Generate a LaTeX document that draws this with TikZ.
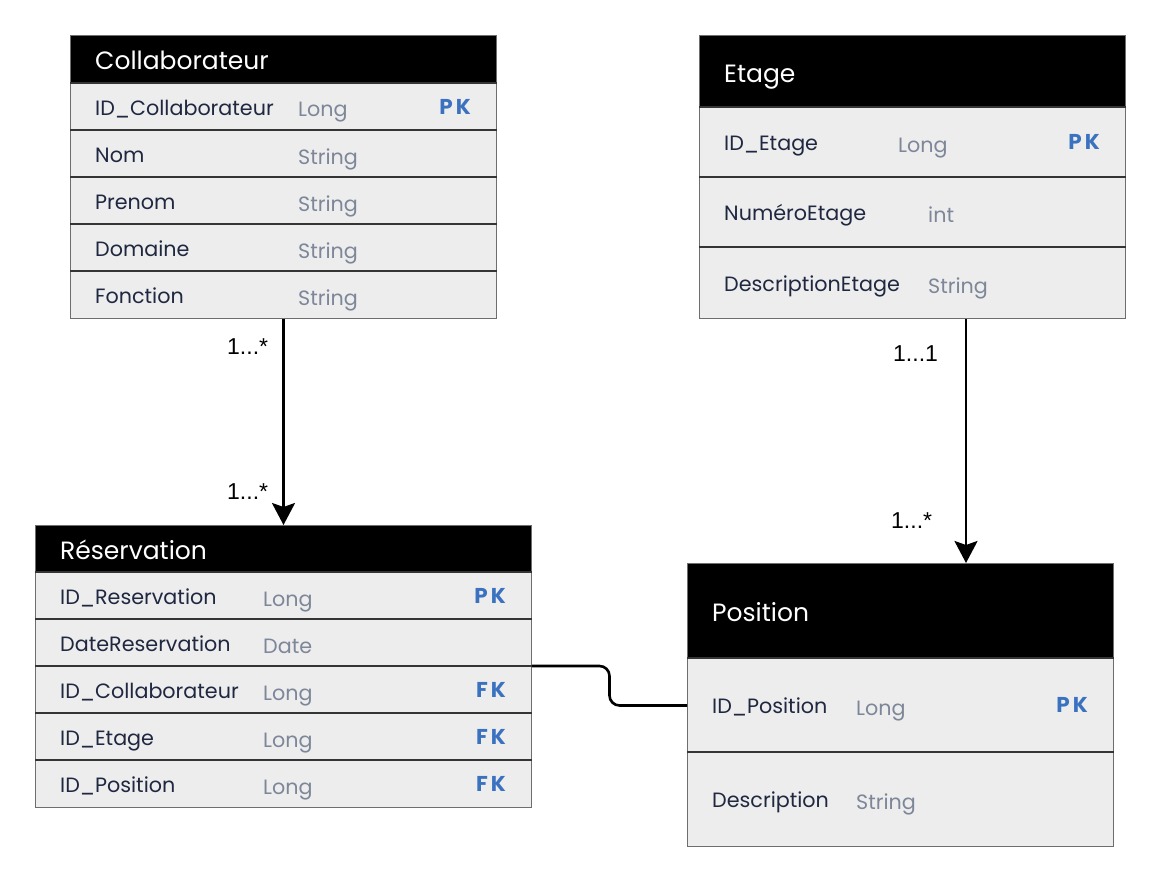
\documentclass[tikz,border=0pt]{standalone}
\usepackage{fontspec}
\setmainfont{Poppins}
\newfontfamily\labfont{Liberation Sans}
\usetikzlibrary{calc,arrows.meta}
\definecolor{rowfill}{HTML}{EDEDED}
\definecolor{fieldcol}{HTML}{1F2840}
\definecolor{typecol}{HTML}{7D8799}
\definecolor{keycol}{HTML}{3B72C0}
\definecolor{bordercol}{HTML}{6E6E6E}
\definecolor{sepcol}{HTML}{353535}
\tikzset{
  headbox/.style={rectangle, fill=black, draw=bordercol, line width=1pt, inner sep=0pt},
  rowbox/.style={rectangle, fill=rowfill, draw=bordercol, line width=1pt, inner sep=0pt},
  sepline/.style={draw=sepcol, line width=1.6pt},
  headtxt/.style={text=white, font=\fontsize{25}{30}\selectfont, inner sep=0pt, anchor=base west},
  fieldtxt/.style={text=fieldcol, font=\fontsize{20.7}{24}\selectfont, inner sep=0pt, anchor=base west},
  typetxt/.style={text=typecol, font=\fontsize{20.7}{24}\selectfont, inner sep=0pt, anchor=base west},
  keytxt/.style={text=keycol, font=\bfseries\fontsize{21.5}{24}\selectfont, inner sep=0pt, anchor=base east},
  conn/.style={line width=2.6pt, draw=black},
  tip/.style={-{Stealth[length=22pt,width=23pt,inset=4pt]}},
  multtxt/.style={font=\labfont\fontsize{23}{26}\selectfont, inner sep=0pt, anchor=base west}
}
% header: id, x, top, width, height, title
\newcommand\ehead[6]{%
  \node[headbox, minimum width=#4pt, minimum height=#5pt, anchor=north west] (#1) at (#2,#3) {};
  \node[headtxt] (#1t) at ($(#1.west)+(25,10.5)$) {#6};
}
% row: id, x, top, width, height, field, type, type offset, key
\newcommand\erow[9]{%
  \node[rowbox, minimum width=#4pt, minimum height=#5pt, anchor=north west] (#1) at (#2,#3) {};
  \draw[sepline] (#1.north west) -- (#1.north east);
  \node[fieldtxt] (#1n) at ($(#1.west)+(25,8)$) {#6};
  \node[typetxt] (#1t) at ($(#1.west)+(#8,10)$) {#7};
  \if\relax\detokenize{#9}\relax\else
  \node[keytxt] (#1k) at ($(#1.east)+(-26,7)$) {#9};\fi
}
\begin{document}
\begin{tikzpicture}[x=1pt,y=-1pt]
\path[use as bounding box] (0,0) rectangle (1160,883);

% Collaborateur
\ehead{colH}{70}{35}{426}{48}{Collaborateur}
\erow{col1}{70}{83}{426}{47}{ID\_Collaborateur}{Long}{228}{P\kern3pt K}
\erow{col2}{70}{130}{426}{47}{Nom}{String}{228}{}
\erow{col3}{70}{177}{426}{47}{Prenom}{String}{228}{}
\erow{col4}{70}{224}{426}{47}{Domaine}{String}{228}{}
\erow{col5}{70}{271}{426}{47}{Fonction}{String}{228}{}

% Etage
\ehead{etgH}{699}{35}{426}{72}{Etage}
\erow{etg1}{699}{107}{426}{70}{ID\_Etage}{Long}{199}{P\kern3pt K}
\erow{etg2}{699}{177}{426}{70}{NuméroEtage}{int}{229}{}
\erow{etg3}{699}{247}{426}{71}{DescriptionEtage}{String}{229}{}

% Reservation
\ehead{resH}{35}{525}{496}{47}{Réservation}
\erow{res1}{35}{572}{496}{47}{ID\_Reservation}{Long}{228}{P\kern3pt K}
\erow{res2}{35}{619}{496}{47}{DateReservation}{Date}{228}{}
\erow{res3}{35}{666}{496}{47}{ID\_Collaborateur}{Long}{228}{F\kern3pt K}
\erow{res4}{35}{713}{496}{47}{ID\_Etage}{Long}{228}{F\kern3pt K}
\erow{res5}{35}{760}{496}{47}{ID\_Position}{Long}{228}{F\kern3pt K}

% Position
\ehead{posH}{687}{563}{426}{95}{Position}
\erow{pos1}{687}{658}{426}{94}{ID\_Position}{Long}{169}{P\kern3pt K}
\erow{pos2}{687}{752}{426}{94}{Description}{String}{169}{}

% connectors
\draw[conn, tip] (resH.north |- col5.south) -- (resH.north);
\coordinate (etgout) at ($(etg3.south west)+(267,0)$);
\draw[conn, tip] (etgout) -- (etgout |- posH.north);
\draw[conn, rounded corners=10pt] (res3.north east) -| ($(res3.north east)!.5!(pos1.west)$) |- (pos1.west);

% multiplicities
\node[multtxt] (m1) at (227,354) {1...*};
\node[multtxt] (m2) at (227,499) {1...*};
\node[multtxt] (m3) at (893,361) {1...1};
\node[multtxt] (m4) at (891,528) {1...*};
\end{tikzpicture}
\end{document}
